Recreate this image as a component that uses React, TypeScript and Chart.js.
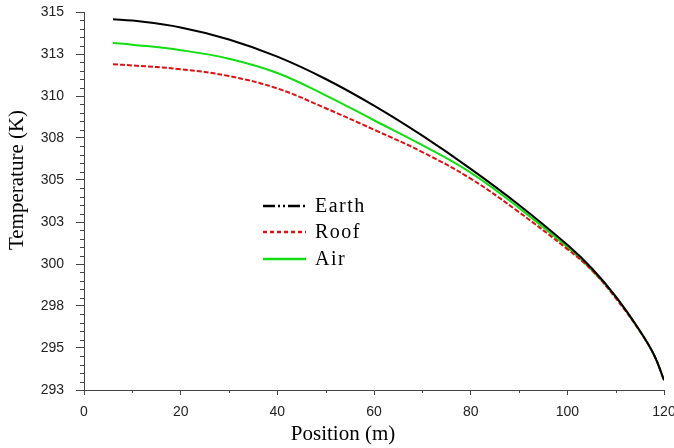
import React, { useEffect, useRef } from "react";
import { Chart, registerables } from "chart.js";

Chart.register(...registerables);

// ---- data ----
const positions = [6, 10, 20, 30, 40, 50, 60, 70, 80, 90, 100, 105, 110, 115, 118, 120];
const earth = [314.58, 314.5, 314.1, 313.4, 312.4, 311.1, 309.55, 307.8, 305.87, 303.77, 301.45, 300.1, 298.45, 296.45, 295.01, 293.57];
const roof = [311.96, 311.89, 311.67, 311.27, 310.55, 309.4, 308.15, 306.85, 305.3, 303.35, 301.2, 300.0, 298.35, 296.42, 295.0, 293.57];
const air = [313.2, 313.1, 312.78, 312.28, 311.45, 310.15, 308.7, 307.25, 305.65, 303.6, 301.32, 300.0, 298.42, 296.44, 295.0, 293.57];

const seriesLabels = ["Earth", "Roof", "Air"];
const yTickLabels = ["293", "295", "298", "300", "303", "305", "308", "310", "313", "315"];
const yMin = 293;
const yMax = 315;
const xMin = 0;
const xMax = 120;
const xStep = 20;

const xTitle = "Position (m)";
const yTitle = "Temperature (K)";

const colors = ["#000000", "#dd1111", "#11dd11"];
const legendDashes = [[12, 3, 2, 3, 2, 3], [4, 3], []];
const plotDashes = [[], [5, 2], []];

const axisColor = "#444444";
const serif = '"Liberation Serif", "Times New Roman", serif';

const overlay = {
  id: "overlay",
  afterDraw(chart: any) {
    const ctx = chart.ctx as CanvasRenderingContext2D;
    const xs = chart.scales.x;
    const ys = chart.scales.y;
    ctx.save();
    ctx.strokeStyle = axisColor;
    ctx.lineWidth = 1;
    // minor ticks on y
    const n = (yTickLabels.length - 1) * 5;
    for (let i = 0; i <= n; i++) {
      if (i % 5 === 0) continue;
      const v = yMin + (i * (yMax - yMin)) / n;
      const py = Math.round(ys.getPixelForValue(v)) + 0.5;
      ctx.beginPath();
      ctx.moveTo(xs.left - 4, py);
      ctx.lineTo(xs.left, py);
      ctx.stroke();
    }
    // minor ticks on x
    for (let v = xMin + xStep / 2; v < xMax; v += xStep) {
      const px = Math.round(xs.getPixelForValue(v)) + 0.5;
      ctx.beginPath();
      ctx.moveTo(px, ys.bottom);
      ctx.lineTo(px, ys.bottom + 3);
      ctx.stroke();
    }
    // axis titles
    ctx.fillStyle = "#000";
    ctx.font = "21px " + serif;
    ctx.textAlign = "center";
    ctx.textBaseline = "middle";
    ctx.fillText(xTitle, 343, 434);
    ctx.save();
    ctx.translate(17, 180);
    ctx.rotate(-Math.PI / 2);
    ctx.fillText(yTitle, 0, 0);
    ctx.restore();
    // legend
    const ly = [206, 232, 259];
    chart.data.datasets.forEach((ds: any, i: number) => {
      ctx.save();
      ctx.strokeStyle = ds.borderColor;
      ctx.lineWidth = 2.5;
      ctx.setLineDash(legendDashes[i]);
      ctx.beginPath();
      ctx.moveTo(263, ly[i]);
      ctx.lineTo(306, ly[i]);
      ctx.stroke();
      ctx.restore();
      ctx.fillStyle = "#000";
      ctx.font = "20px " + serif;
      (ctx as any).letterSpacing = "1.5px";
      ctx.textAlign = "left";
      ctx.textBaseline = "middle";
      ctx.fillText(ds.label, 315, ly[i] + 1);
      (ctx as any).letterSpacing = "0px";
    });
    ctx.restore();
  },
};

export default function App() {
  const ref = useRef<HTMLCanvasElement | null>(null);
  useEffect(() => {
    if (!ref.current) return;
    const series = [earth, roof, air];
    const chart = new Chart(ref.current, {
      type: "line",
      data: {
        datasets: series.map((vals, i) => ({
          label: seriesLabels[i],
          data: positions.map((p, j) => ({ x: p, y: vals[j] })),
          borderColor: colors[i],
          backgroundColor: colors[i],
          borderWidth: 2,
          borderDash: plotDashes[i],
          pointRadius: 0,
          tension: 0.4,
          fill: false,
        })),
      },
      options: {
        responsive: false,
        animation: false,
        layout: { padding: { left: 0, right: 10, top: 12, bottom: 0 } },
        plugins: { legend: { display: false }, tooltip: { enabled: false } },
        scales: {
          x: {
            type: "linear",
            min: xMin,
            max: xMax,
            border: { display: true, color: axisColor, width: 1 },
            grid: { display: true, drawOnChartArea: false, drawTicks: true, tickLength: 5, color: axisColor },
            ticks: { stepSize: xStep, color: "#222", font: { family: '"Liberation Sans", Arial, sans-serif', size: 14 }, padding: 9, maxRotation: 0 },
            afterFit: (s: any) => {
              s.height = 58;
              s.paddingLeft = 0;
              s.paddingRight = 0;
            },
          },
          y: {
            type: "linear",
            min: yMin,
            max: yMax,
            border: { display: true, color: axisColor, width: 1 },
            grid: { display: true, drawOnChartArea: false, drawTicks: true, tickLength: 8, color: axisColor },
            afterBuildTicks: (s: any) => {
              s.ticks = yTickLabels.map((_, i) => ({ value: yMin + (i * (yMax - yMin)) / (yTickLabels.length - 1) }));
            },
            ticks: {
              color: "#222",
              font: { family: '"Liberation Sans", Arial, sans-serif', size: 14 },
              padding: 12,
              callback: (_v: any, i: number) => yTickLabels[i],
            },
            afterFit: (s: any) => {
              s.width = 84;
              s.paddingTop = 0;
              s.paddingBottom = 0;
            },
          },
        },
      },
      plugins: [overlay],
    });
    return () => chart.destroy();
  }, []);
  return (
    <div style={{ position: "absolute", left: 0, top: 0, width: 674, height: 448, background: "#fff" }}>
      <canvas ref={ref} width={674} height={448} />
    </div>
  );
}
